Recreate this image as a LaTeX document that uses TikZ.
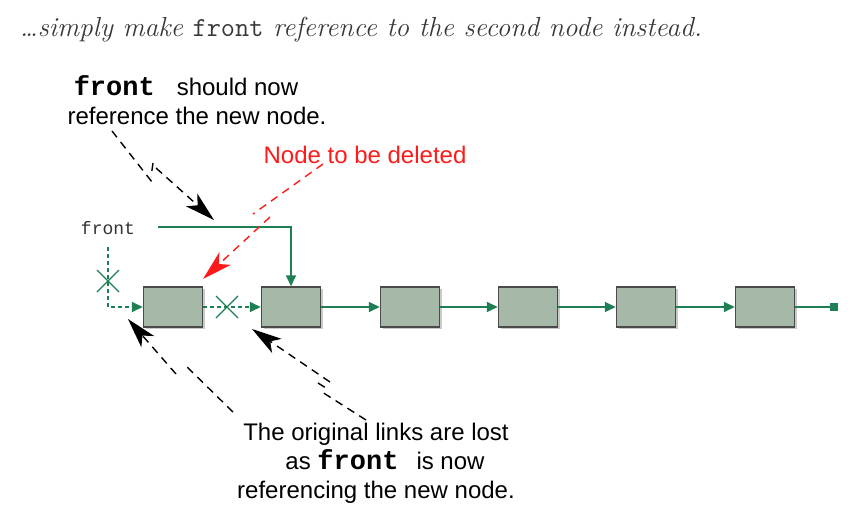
\documentclass[tikz,border=0pt]{standalone}
\usepackage{fontspec}
\newfontfamily\arial{Liberation Sans}
\newfontfamily\cour{Liberation Mono}
\usetikzlibrary{arrows.meta,shadows}
\definecolor{lgreen}{HTML}{1E7F55}
\definecolor{boxfill}{HTML}{A6B9A8}
\definecolor{boxline}{HTML}{4A4A4A}
\definecolor{delred}{HTML}{FF1A1A}
\definecolor{titlegray}{HTML}{383838}
\begin{document}
\begin{tikzpicture}[x=1pt,y=-1pt,
  lnode/.style={draw=boxline, line width=1.5pt, fill=boxfill, minimum width=59pt, minimum height=40pt, inner sep=0pt,
    drop shadow={shadow xshift=2pt, shadow yshift=-2pt, fill=black!35, opacity=0.6}},
  link/.style={draw=lgreen, line width=1.8pt, -{Triangle[length=11pt,width=10pt]}},
  dlink/.style={link, dash pattern=on 4pt off 3pt},
  xmark/.style={draw=lgreen, line width=1.4pt},
  note/.style={draw=black, line width=1.4pt, dash pattern=on 8pt off 6pt},
  rnote/.style={draw=delred, line width=1.4pt, dash pattern=on 8pt off 6pt},
  notetip/.style={-{Stealth[length=30pt,width=17pt,inset=8pt]}},
  sans/.style={font=\arial\fontsize{24}{29}\selectfont, align=center, inner sep=0pt},
]
\useasboundingbox (0,0) rectangle (854,519);

% title
\node[font=\itshape\fontsize{27.5}{30}\selectfont, text=titlegray, inner sep=0pt] (title) at (361,30)
  {\ldots simply make {\upshape\ttfamily front} reference to the second node instead.};

% list nodes
\node[lnode] (n1) at (173,307) {};
\node[lnode] (n2) at (291,307) {};
\node[lnode] (n3) at (410,307) {};
\node[lnode] (n4) at (528,307) {};
\node[lnode] (n5) at (646,307) {};
\node[lnode] (n6) at (765,307) {};
\coordinate (endpt) at (834,307);

\draw[link] (n2.east) -- (n3.west);
\draw[link] (n3.east) -- (n4.west);
\draw[link] (n4.east) -- (n5.west);
\draw[link] (n5.east) -- (n6.west);
\draw[lgreen, line width=1.8pt] (n6.east) -- (endpt);
\fill[lgreen] ([shift={(-4,-4)}]endpt) rectangle ([shift={(4,4)}]endpt);

% lost link between n1 and n2
\draw[dlink] (n1.east) -- (n2.west);
\coordinate (x2) at (227,307);
\draw[xmark] ([shift={(-11,-11)}]x2) -- ([shift={(11,11)}]x2);
\draw[xmark] ([shift={(-11,11)}]x2) -- ([shift={(11,-11)}]x2);

% front label and new reference
\node[font=\cour\fontsize{18}{20}\selectfont, text=black!80, inner sep=0pt] (frontlbl) at (108,228) {front};
\coordinate (fs) at (158,227);
\draw[link] (fs) -- (fs -| n2) -- (n2.north);

% old front reference
\coordinate (of) at (108,247);
\draw[dlink] (of) |- (n1.west);
\coordinate (x1) at (108,281);
\draw[xmark] ([shift={(-11,-11)}]x1) -- ([shift={(11,11)}]x1);
\draw[xmark] ([shift={(-11,11)}]x1) -- ([shift={(11,-11)}]x1);

% top annotation
\node[sans] (t1) at (197,100) {{\cour\bfseries\fontsize{27}{29}\selectfont front}\hspace{22pt}should now\hspace*{22pt}\\reference the new node.};
\draw[note] (112,131) -- (152,182);
\draw[note] (153,163) -- (151,177);
\draw[note, notetip] (156,168) -- (214,220);

% node to be deleted
\node[sans, text=delred] (del) at (365,155) {Node to be deleted};
\draw[rnote] (323,164) -- (253,214);
\draw[rnote, notetip] (270,217) -- (203,279);

% bottom annotation
\node[sans] (t2) at (376,463) {The original links are lost\\
  \hspace*{18pt}as {\cour\bfseries\fontsize{27}{29}\selectfont front}\hspace{18pt}is now\\
  referencing the new node.};
\draw[note] (233,412) -- (185,365);
\draw[note, notetip] (176,374) -- (128,319);
\draw[note] (366,420) -- (322,392);
\draw[note] (318,383) -- (326,388);
\draw[note, notetip] (330,382) -- (252,329);
\end{tikzpicture}
\end{document}
